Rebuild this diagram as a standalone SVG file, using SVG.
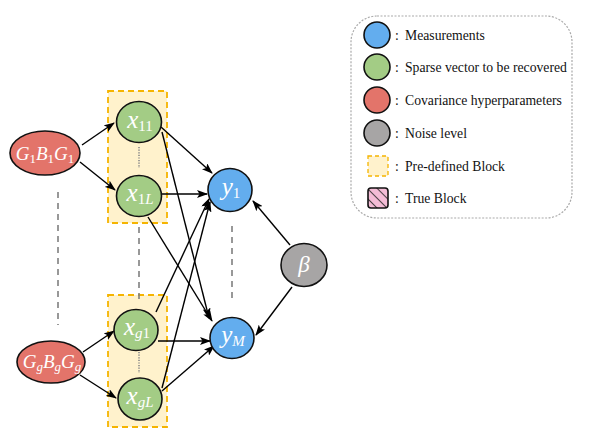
<svg xmlns="http://www.w3.org/2000/svg" width="600" height="430" viewBox="0 0 600 430">
<defs>
<marker id="ah" markerWidth="11" markerHeight="8" refX="10" refY="4" orient="auto" markerUnits="userSpaceOnUse">
<path d="M0,0 L11,4 L0,8 L2.5,4 Z" fill="#000"/>
</marker>
<pattern id="hatch" width="7" height="7" patternUnits="userSpaceOnUse" patternTransform="rotate(-45)">
<rect width="7" height="7" fill="#F4BCD6"/>
<line x1="0" y1="0" x2="0" y2="7" stroke="#222" stroke-width="1.6"/>
</pattern>
<style>
.nd{stroke:#111;stroke-width:1.6}
.red{fill:#E3746A}
.grn{fill:#A3CC85}
.blu{fill:#63ADEE}
.gry{fill:#A7A5A5}
.blk{fill:#FFF2CC;stroke:#F5B400;stroke-width:1.8;stroke-dasharray:6,4}
.lab{font-family:"Liberation Serif",serif;font-style:italic;fill:#fff}
.sub{font-size:15px}
.up{font-style:normal}
.dash{stroke:#7f7f7f;stroke-width:1.6;stroke-dasharray:6,5;fill:none}
.dot{stroke:#888;stroke-width:1.6;stroke-dasharray:1.2,1.4;fill:none}
.e{stroke:#000;stroke-width:1.4;fill:none;marker-end:url(#ah)}
.lg{font-family:"Liberation Serif",serif;font-size:13.7px;fill:#111}
</style>
</defs>
<rect width="600" height="430" fill="#fff"/>

<!-- blocks -->
<g id="block1"><rect class="blk" x="108" y="91" width="59" height="132"/></g>
<g id="blockg"><rect class="blk" x="108" y="295" width="59" height="132"/></g>

<!-- dashed separators -->
<g id="separators">
<line class="dash" x1="58" y1="192" x2="58" y2="325"/>
<line class="dash" x1="139" y1="227" x2="139" y2="300"/>
<line class="dash" x1="232" y1="226" x2="232" y2="303"/>
<line class="dot" x1="139" y1="147" x2="139" y2="168"/>
<line class="dot" x1="139" y1="352" x2="139" y2="373"/>
</g>

<!-- connectors -->
<g id="connectors">
<path class="e" d="M82,145 L114,123"/>
<path class="e" d="M80,162 L115,190"/>
<path class="e" d="M83,352 L114,331"/>
<path class="e" d="M80,375 L116,398"/>
<path class="e" d="M161,127 L212,173"/>
<path class="e" d="M162,132 L209,318"/>
<path class="e" d="M161,194 L207,194"/>
<path class="e" d="M148,217 L212,321"/>
<path class="e" d="M156,312 L209,199"/>
<path class="e" d="M162,388 L210,202"/>
<path class="e" d="M158,341 L210,341"/>
<path class="e" d="M162,391 L214,346"/>
<path class="e" d="M290,245 L253,201"/>
<path class="e" d="M292,287 L256,335"/>
</g>

<!-- nodes -->
<g id="G1"><ellipse class="nd red" cx="45" cy="153" rx="35" ry="22"/>
<text class="lab" x="45" y="160" font-size="19" text-anchor="middle">G<tspan class="up" font-size="13" dy="3">1</tspan><tspan dy="-3">B</tspan><tspan class="up" font-size="13" dy="3">1</tspan><tspan dy="-3">G</tspan><tspan class="up" font-size="13" dy="3">1</tspan></text></g>
<g id="Gg"><ellipse class="nd red" cx="51" cy="362" rx="34" ry="21"/>
<text class="lab" x="52" y="368" font-size="19" text-anchor="middle">G<tspan font-size="13" dy="3">g</tspan><tspan dy="-3">B</tspan><tspan font-size="13" dy="3">g</tspan><tspan dy="-3">G</tspan><tspan font-size="13" dy="3">g</tspan></text></g>

<g id="x11"><ellipse class="nd grn" cx="139" cy="122" rx="22.5" ry="20.5"/>
<text class="lab" x="140" y="128" font-size="25" text-anchor="middle">x<tspan class="sub up" dy="3">11</tspan></text></g>
<g id="x1L"><ellipse class="nd grn" cx="139" cy="196" rx="22.5" ry="20.5"/>
<text class="lab" x="140" y="201" font-size="25" text-anchor="middle">x<tspan class="sub up" dy="3">1</tspan><tspan class="sub">L</tspan></text></g>
<g id="xg1"><ellipse class="nd grn" cx="136" cy="330" rx="22" ry="20.5"/>
<text class="lab" x="137" y="335" font-size="25" text-anchor="middle">x<tspan class="sub" dy="3">g</tspan><tspan class="sub up">1</tspan></text></g>
<g id="xgL"><ellipse class="nd grn" cx="140" cy="399" rx="22" ry="21"/>
<text class="lab" x="140" y="404" font-size="25" text-anchor="middle">x<tspan class="sub" dy="3">gL</tspan></text></g>

<g id="y1"><ellipse class="nd blu" cx="230" cy="190" rx="22" ry="21.5"/>
<text class="lab" x="231" y="195" font-size="25" text-anchor="middle">y<tspan class="sub up" dy="3">1</tspan></text></g>
<g id="yM"><ellipse class="nd blu" cx="232" cy="338" rx="22" ry="20.5"/>
<text class="lab" x="233" y="343" font-size="25" text-anchor="middle">y<tspan class="sub" dy="3">M</tspan></text></g>
<g id="beta"><ellipse class="nd gry" cx="304" cy="265" rx="23" ry="21.5"/>
<text class="lab" x="304" y="272" font-size="23" text-anchor="middle">β</text></g>

<!-- legend -->
<g id="legend">
<rect x="351" y="16" width="221" height="202" rx="26" fill="none" stroke="#aaa" stroke-width="1.2" stroke-dasharray="2,1.5"/>
<circle class="nd blu" cx="377" cy="35" r="13"/>
<circle class="nd grn" cx="377" cy="67" r="13"/>
<circle class="nd red" cx="377" cy="100" r="13"/>
<circle class="nd gry" cx="377" cy="133" r="13"/>
<rect x="368" y="156" width="20" height="20" fill="#FFF2CC" stroke="#F5B400" stroke-width="1.3" stroke-dasharray="4,3"/>
<rect x="368" y="188" width="20" height="20" rx="3" fill="url(#hatch)" stroke="#111" stroke-width="1.6"/>
<text class="lg" x="395" y="40">:</text><text class="lg" x="405" y="40">Measurements</text>
<text class="lg" x="395" y="72">:</text><text class="lg" x="405" y="72">Sparse vector to be recovered</text>
<text class="lg" x="395" y="105">:</text><text class="lg" x="405" y="105">Covariance hyperparameters</text>
<text class="lg" x="395" y="138">:</text><text class="lg" x="405" y="138">Noise level</text>
<text class="lg" x="395" y="171">:</text><text class="lg" x="405" y="171">Pre-defined Block</text>
<text class="lg" x="395" y="203">:</text><text class="lg" x="405" y="203">True Block</text>
</g>
</svg>
